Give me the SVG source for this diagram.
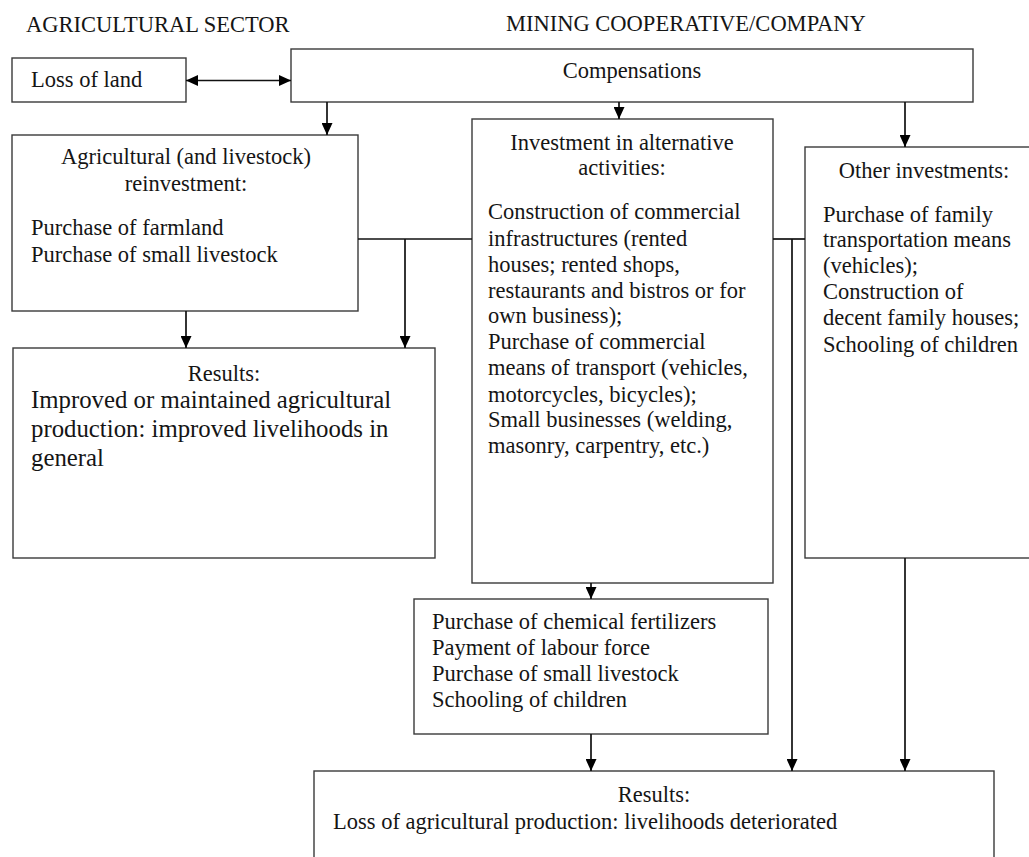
<svg xmlns="http://www.w3.org/2000/svg" width="1029" height="857" viewBox="0 0 1029 857">
<style>
text{font-family:'Liberation Serif','Times New Roman',Times,serif;font-size:22.5px;fill:#151515}
.c{text-anchor:middle}
.big{font-size:24.8px}
rect{fill:#fff;stroke:#3a3a3a;stroke-width:1.4}
.ln{fill:none;stroke:#111;stroke-width:1.7}
</style>
<defs>
<marker id="ah" markerUnits="userSpaceOnUse" markerWidth="12" markerHeight="11" refX="12" refY="5.5" orient="auto-start-reverse" viewBox="0 0 12 11">
<path d="M0,0 L12,5.5 L0,11 z" fill="#000"/>
</marker>
</defs>
<rect x="0" y="0" width="1029" height="857" style="stroke:none"/>
<g id="headers">
<text x="26" y="32">AGRICULTURAL SECTOR</text>
<text x="506" y="31">MINING COOPERATIVE/COMPANY</text>
</g>
<g id="loss-of-land">
<rect x="12" y="58" width="174" height="44"/>
<text x="31" y="87">Loss of land</text>
</g>
<g id="compensations">
<rect x="291" y="49" width="682" height="53"/>
<text x="632" y="78" class="c">Compensations</text>
</g>
<g id="agri-reinvestment">
<rect x="12" y="135" width="346" height="176"/>
<text x="186" y="164" class="c">Agricultural (and livestock)</text>
<text x="186" y="191" class="c">reinvestment:</text>
<text x="31" y="235">Purchase of farmland</text>
<text x="31" y="262">Purchase of small livestock</text>
</g>
<g id="results-left">
<rect x="13" y="348" width="422" height="210"/>
<text x="224" y="381" class="c">Results:</text>
<text x="31" y="408" class="big">Improved or maintained agricultural</text>
<text x="31" y="437" class="big">production: improved livelihoods in</text>
<text x="31" y="466" class="big">general</text>
</g>
<g id="alt-investment">
<rect x="472" y="119" width="301" height="464"/>
<text x="622" y="150" class="c">Investment in alternative</text>
<text x="622" y="175" class="c">activities:</text>
<text x="488" y="219">Construction of commercial</text>
<text x="488" y="246">infrastructures (rented</text>
<text x="488" y="272">houses; rented shops,</text>
<text x="488" y="298">restaurants and bistros or for</text>
<text x="488" y="323">own business);</text>
<text x="488" y="349">Purchase of commercial</text>
<text x="488" y="375">means of transport (vehicles,</text>
<text x="488" y="402">motorcycles, bicycles);</text>
<text x="488" y="427">Small businesses (welding,</text>
<text x="488" y="453">masonry, carpentry, etc.)</text>
</g>
<g id="other-investments">
<rect x="805" y="147" width="240" height="411"/>
<text x="924" y="178" class="c">Other investments:</text>
<text x="823" y="222">Purchase of family</text>
<text x="823" y="247">transportation means</text>
<text x="823" y="273">(vehicles);</text>
<text x="823" y="299">Construction of</text>
<text x="823" y="325">decent family houses;</text>
<text x="823" y="352">Schooling of children</text>
</g>
<g id="purchases">
<rect x="414" y="599" width="354" height="135"/>
<text x="432" y="629">Purchase of chemical fertilizers</text>
<text x="432" y="655">Payment of labour force</text>
<text x="432" y="681">Purchase of small livestock</text>
<text x="432" y="707">Schooling of children</text>
</g>
<g id="results-bottom">
<rect x="314" y="771" width="680" height="100"/>
<text x="654" y="802" class="c">Results:</text>
<text x="333" y="829">Loss of agricultural production: livelihoods deteriorated</text>
</g>
<g id="connectors">
<line class="ln" x1="186" y1="80.5" x2="291" y2="80.5" marker-start="url(#ah)" marker-end="url(#ah)"/>
<line class="ln" x1="327" y1="102" x2="327" y2="135" marker-end="url(#ah)"/>
<line class="ln" x1="619" y1="102" x2="619" y2="119" marker-end="url(#ah)"/>
<line class="ln" x1="905" y1="102" x2="905" y2="147" marker-end="url(#ah)"/>
<line class="ln" x1="358" y1="239" x2="472" y2="239"/>
<line class="ln" x1="405" y1="239" x2="405" y2="348" marker-end="url(#ah)"/>
<line class="ln" x1="186" y1="311" x2="186" y2="348" marker-end="url(#ah)"/>
<line class="ln" x1="773" y1="239" x2="805" y2="239"/>
<line class="ln" x1="792" y1="239" x2="792" y2="771" marker-end="url(#ah)"/>
<line class="ln" x1="591" y1="583" x2="591" y2="599" marker-end="url(#ah)"/>
<line class="ln" x1="591" y1="734" x2="591" y2="771" marker-end="url(#ah)"/>
<line class="ln" x1="905" y1="558" x2="905" y2="771" marker-end="url(#ah)"/>
</g>
</svg>
